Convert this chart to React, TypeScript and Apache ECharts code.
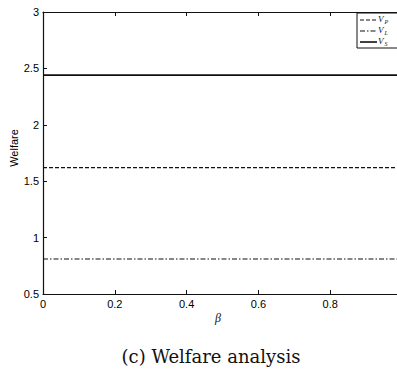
import React, { useEffect, useRef } from "react";
import * as echarts from "echarts";

const beta = [0, 0.2, 0.4, 0.6, 0.8, 1];
const vP = [1.62, 1.62, 1.62, 1.62, 1.62, 1.62];
const vL = [0.81, 0.81, 0.81, 0.81, 0.81, 0.81];
const vS = [2.44, 2.44, 2.44, 2.44, 2.44, 2.44];
const xTicks = [0, 0.2, 0.4, 0.6, 0.8];
const yTicks = [0.5, 1, 1.5, 2, 2.5, 3];
const legendSubs = ["P", "L", "S"];

const pairs = (ys: number[]) => beta.map((b, i) => [b, ys[i]]);

export default function App() {
  const ref = useRef<HTMLDivElement>(null);
  useEffect(() => {
    document.body.style.margin = "0";
    document.body.style.overflow = "hidden";
    const chart = echarts.init(ref.current!, null, { renderer: "svg" });
    const labelFont = {
      fontFamily: "Liberation Sans, Arial, sans-serif",
      fontSize: 11,
      color: "#000",
    };
    const legendItems = [
      { sub: legendSubs[0], y: 20, dash: [4, 2] },
      { sub: legendSubs[1], y: 31, dash: [5, 2, 1.5, 2] },
      { sub: legendSubs[2], y: 42, dash: null as number[] | null },
    ];
    chart.setOption({
      animation: false,
      backgroundColor: "#fff",
      grid: { left: 43, top: 12, width: 359, height: 282, containLabel: false, outerBoundsMode: "none" },
      xAxis: [
        {
          type: "value",
          min: 0,
          max: 1,
          interval: 0.2,
          axisLine: { show: true, lineStyle: { color: "#111", width: 1.2 } },
          axisTick: { show: true, inside: true, length: 4, lineStyle: { color: "#111" } },
          axisLabel: {
            ...labelFont,
            margin: 4,
            formatter: (v: number) => (xTicks.some((t) => Math.abs(t - v) < 1e-9) ? String(Math.round(v * 10) / 10) : ""),
          },
          splitLine: { show: false },
        },
        {
          type: "value",
          position: "top",
          min: 0,
          max: 1,
          interval: 0.2,
          axisLine: { show: true, lineStyle: { color: "#111", width: 1.2 } },
          axisTick: { show: true, inside: true, length: 4, lineStyle: { color: "#111" } },
          axisLabel: { show: false },
          splitLine: { show: false },
        },
      ],
      yAxis: [
        {
          type: "value",
          min: 0.5,
          max: 3,
          interval: 0.5,
          axisLine: { show: true, lineStyle: { color: "#111", width: 1.2 } },
          axisTick: { show: true, inside: true, length: 4, lineStyle: { color: "#111" } },
          axisLabel: {
            ...labelFont,
            margin: 4,
            formatter: (v: number) => (yTicks.some((t) => Math.abs(t - v) < 1e-9) ? String(v) : ""),
          },
          splitLine: { show: false },
        },
      ],
      series: [
        {
          name: "VP",
          type: "line",
          data: pairs(vP),
          showSymbol: false,
          lineStyle: { color: "#111", width: 1.1, type: [4, 2] },
        },
        {
          name: "VL",
          type: "line",
          data: pairs(vL),
          showSymbol: false,
          lineStyle: { color: "#111", width: 1.1, type: [5, 2, 1.5, 2] },
        },
        {
          name: "VS",
          type: "line",
          data: pairs(vS),
          showSymbol: false,
          lineStyle: { color: "#111", width: 1.6 },
        },
      ],
      graphic: [
        {
          type: "rect",
          shape: { x: 357, y: 13, width: 45, height: 35 },
          style: { fill: "#fff", stroke: "#111", lineWidth: 1 },
          z: 10,
        },
        ...legendItems.flatMap((it) => [
          {
            type: "line",
            shape: { x1: 360, y1: it.y, x2: 377, y2: it.y },
            style: { stroke: "#111", lineWidth: it.dash ? 1.1 : 1.6, lineDash: it.dash || undefined },
            z: 11,
          },
          {
            type: "text",
            x: 378,
            y: it.y - 1,
            style: {
              text: "V",
              fontFamily: "Liberation Serif, serif",
              fontStyle: "italic",
              fontSize: 9,
              fill: "#111",
              textVerticalAlign: "middle",
            },
            z: 11,
          },
          {
            type: "text",
            x: 384.5,
            y: it.y + 2,
            style: {
              text: it.sub,
              fontFamily: "Liberation Serif, serif",
              fontStyle: "italic",
              fontSize: 6,
              fill: "#111",
              textVerticalAlign: "middle",
            },
            z: 11,
          },
        ]),
        {
          type: "text",
          x: 14,
          y: 148,
          rotation: Math.PI / 2,
          style: {
            text: "Welfare",
            ...{ fontFamily: "Liberation Sans, Arial, sans-serif", fontSize: 11, fill: "#000" },
            textAlign: "center",
            textVerticalAlign: "middle",
          },
        },
        {
          type: "text",
          x: 218,
          y: 318,
          style: {
            text: "β",
            fontFamily: "Liberation Serif, serif",
            fontStyle: "italic",
            fontSize: 12,
            fill: "#111",
            textAlign: "center",
            textVerticalAlign: "middle",
          },
        },
        {
          type: "text",
          x: 211,
          y: 356,
          style: {
            text: "(c) Welfare analysis",
            fontFamily: "DejaVu Serif, serif",
            fontSize: 18,
            fill: "#111",
            textAlign: "center",
            textVerticalAlign: "middle",
          },
        },
      ],
    });
    return () => chart.dispose();
  }, []);
  return (
    <div style={{ position: "fixed", left: 0, top: 0, width: 397, height: 376, overflow: "hidden", background: "#fff" }}>
      <div ref={ref} style={{ width: 420, height: 376 }} />
    </div>
  );
}
